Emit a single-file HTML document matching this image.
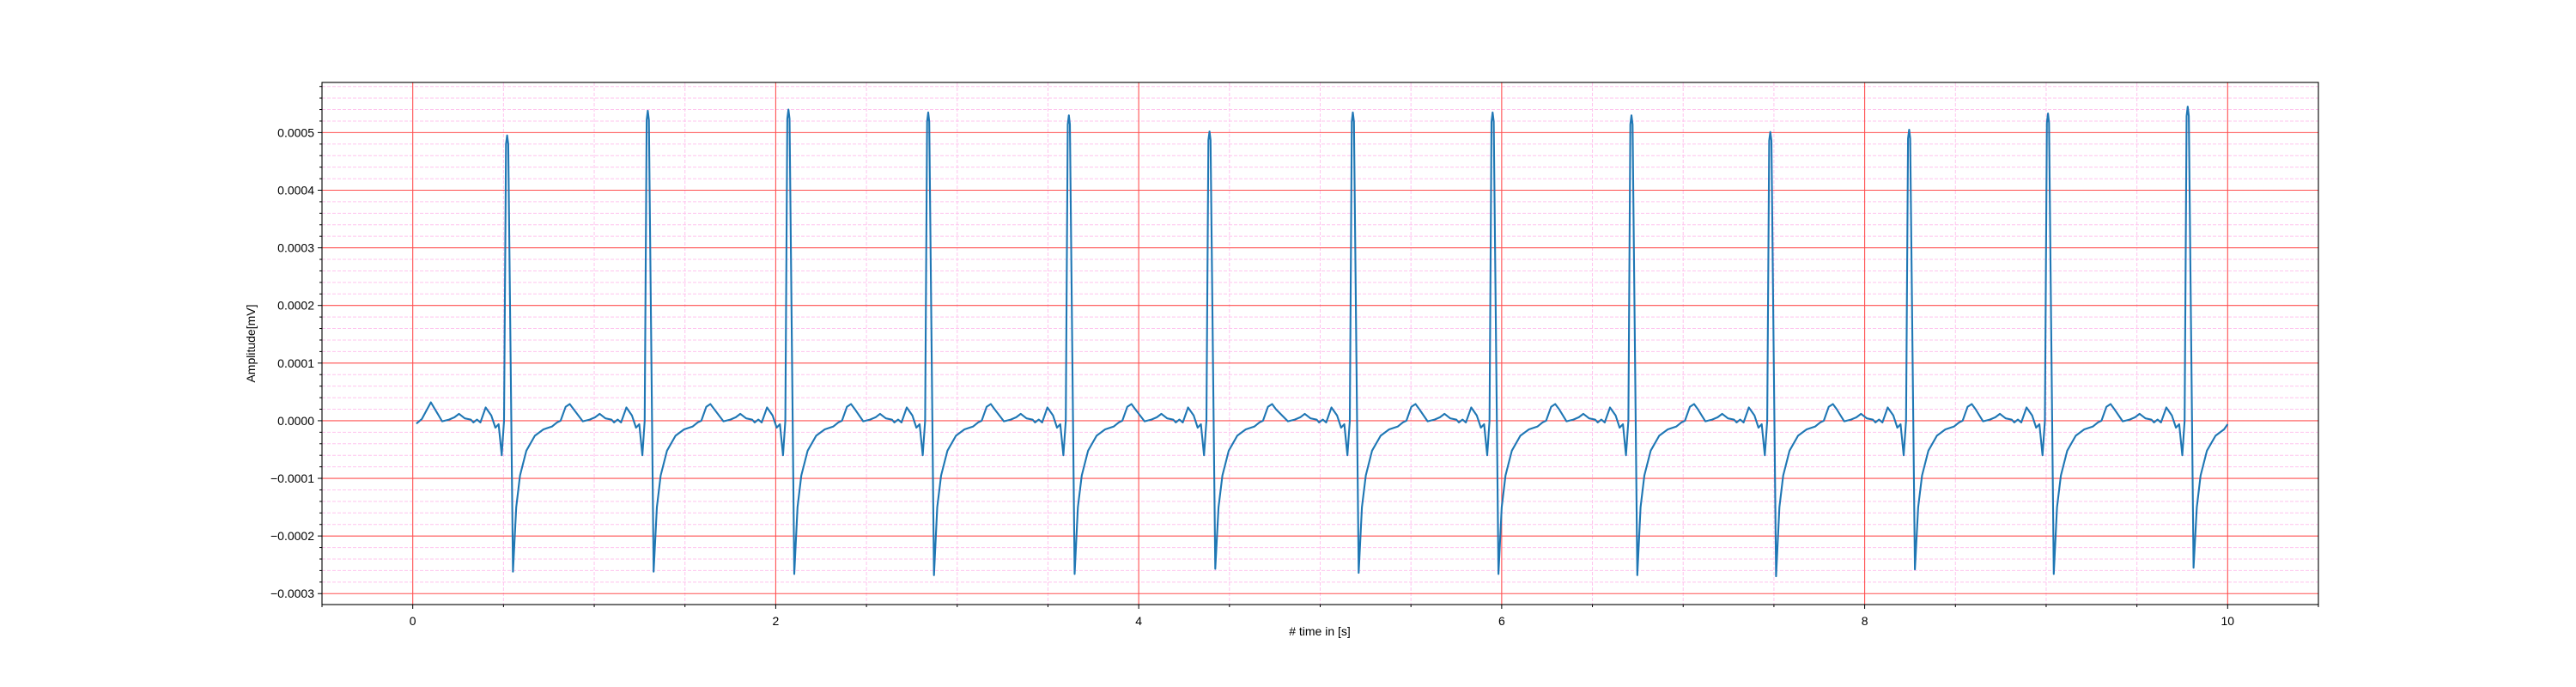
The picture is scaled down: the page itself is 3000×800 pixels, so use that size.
<!DOCTYPE html>
<html><head><meta charset="utf-8"><style>
html,body{margin:0;padding:0;background:#fff;}
svg{display:block;font-family:"Liberation Sans","DejaVu Sans",sans-serif;}
</style></head><body>
<svg id="chart" width="3000" height="800" viewBox="0 0 3000 800" xmlns="http://www.w3.org/2000/svg">
<rect x="0" y="0" width="3000" height="800" fill="#fff"/>
<g id="grid"></g>
<g id="series"></g>
<g id="axes"></g>
<text x="1537" y="740" font-size="14" text-anchor="middle"># time in [s]</text>
<text x="297" y="400" font-size="14" text-anchor="middle" transform="rotate(-90 297 400)">Amplitude[mV]</text>
</svg>
<script>
// R-peak times (s), R amplitudes and S amplitudes (x1e-4 mV)
const rTimes = [0.52, 1.295, 2.07, 2.84, 3.615, 4.39, 5.18, 5.95, 6.715, 7.48, 8.245, 9.01, 9.78];
const rAmps = [4.95, 5.38, 5.40, 5.35, 5.30, 5.02, 5.35, 5.35, 5.30, 5.01, 5.05, 5.33, 5.45];
const sAmps = [-2.62, -2.62, -2.66, -2.68, -2.66, -2.57, -2.64, -2.66, -2.68, -2.70, -2.58, -2.66, -2.55];
// beat waveform shape: offset from R (s) and value (x1e-4 mV); 'R' = peak, 'r' = near-peak, null = S trough
const templateDt = [-0.524,-0.50,-0.47,-0.42,-0.358,-0.32,-0.29,-0.265,-0.233,-0.20,-0.186,-0.166,-0.147,-0.118,-0.087,-0.065,-0.047,-0.030,-0.017,-0.006,0,0.006,0.032,0.050,0.071,0.106,0.153,0.200,0.248,0.275,0.295,0.322,0.345,0.366,0.397,0.429,0.468];
const templateV = [-0.04,-0.05,0.03,0.32,-0.01,0.02,0.06,0.12,0.04,0.02,-0.03,0.02,-0.03,0.23,0.09,-0.12,-0.06,-0.60,0.0,'r','R','r',null,-1.50,-0.95,-0.52,-0.26,-0.15,-0.10,-0.03,0.0,0.24,0.29,0.20,0.03,0.06,0.08];
const xMajorTicks = [0,2,4,6,8,10];
const xTickLabels = ["0","2","4","6","8","10"];
const yMajorTicks = [-3,-2,-1,0,1,2,3,4,5];
const yTickLabels = ["\u22120.0003","\u22120.0002","\u22120.0001","0.0000","0.0001","0.0002","0.0003","0.0004","0.0005"];

const L=375,R=2700,T=96,B=704;
const xMin=-0.5,xMax=10.5,yMin=-3.19,yMax=5.87;
function xs(v){return L+(v-xMin)/(xMax-xMin)*(R-L);}
function ys(v){return B-(v-yMin)/(yMax-yMin)*(B-T);}
const NS="http://www.w3.org/2000/svg";
function mk(tag,attrs,parent){const e=document.createElementNS(NS,tag);for(const k in attrs)e.setAttribute(k,attrs[k]);parent.appendChild(e);return e;}
const grid=document.getElementById('grid'),axes=document.getElementById('axes'),series=document.getElementById('series');

for(let i=-1;i<=21;i++){const v=i*0.5;if(v<xMin||v>xMax)continue;if(v%2===0)continue;
 const g=mk('line',{x1:xs(v),x2:xs(v),y1:T,y2:B,stroke:'#ffc4ee','stroke-width':1,'stroke-dasharray':'4,2'},grid);
 
 }
for(let i=-16;i<=29;i++){const v=i*0.2;if(v<yMin||v>yMax)continue;if(Math.abs(v-Math.round(v))<1e-6)continue;
 const g=mk('line',{x1:L,x2:R,y1:ys(v),y2:ys(v),stroke:'#ffc4ee','stroke-width':1,'stroke-dasharray':'4,2'},grid);
 
 }
xMajorTicks.forEach(v=>{const g=mk('line',{x1:xs(v),x2:xs(v),y1:T,y2:B,stroke:'#ff5050','stroke-width':1.1},grid);
 
 });
yMajorTicks.forEach(v=>{const g=mk('line',{x1:L,x2:R,y1:ys(v),y2:ys(v),stroke:'#ff5050','stroke-width':1.1},grid);
 
 });

let pts=[];
for(let b=0;b<rTimes.length;b++){
 const lo=b===0?-10:-(rTimes[b]-rTimes[b-1])/2;
 const hi=b===rTimes.length-1?10:(rTimes[b+1]-rTimes[b])/2;
 for(let k=0;k<templateDt.length;k++){
  const dt=templateDt[k];if(dt<lo||dt>=hi)continue;
  const t=rTimes[b]+dt;if(t<0||t>10)continue;
  let v=templateV[k];
  if(v==='R')v=rAmps[b];else if(v==='r')v=rAmps[b]*0.97;else if(v===null)v=sAmps[b];
  pts.push([t,v]);}
}
pts.push([10,-0.06]);
const d=pts.map((p,i)=>(i?'L':'M')+xs(p[0]).toFixed(1)+','+ys(p[1]).toFixed(1)).join(' ');
const line=mk('path',{d:d,fill:'none',stroke:'#1f77b4','stroke-width':2.1,'stroke-linejoin':'round'},series);



const fr=mk('rect',{x:L,y:T,width:R-L,height:B-T,fill:'none',stroke:'#000','stroke-width':1.1},axes);


for(let i=-1;i<=21;i++){const v=i*0.5;if(v<xMin||v>xMax)continue;const maj=v%2===0;
 const t=mk('line',{x1:xs(v),x2:xs(v),y1:B,y2:B+(maj?5:3),stroke:'#000','stroke-width':1},axes);
 
 }
xMajorTicks.forEach((v,i)=>{const t=mk('text',{x:xs(v),y:B+24,'font-size':14,'text-anchor':'middle'},axes);t.textContent=xTickLabels[i];
 
 });
for(let i=-16;i<=29;i++){const v=i*0.2;if(v<yMin||v>yMax)continue;const maj=Math.abs(v-Math.round(v))<1e-6;
 const t=mk('line',{x1:L-(maj?5:3),x2:L,y1:ys(v),y2:ys(v),stroke:'#000','stroke-width':1},axes);
 
 }
yMajorTicks.forEach((v,i)=>{const t=mk('text',{x:L-9,y:ys(v)+5,'font-size':14,'text-anchor':'end'},axes);t.textContent=yTickLabels[i];
 
 });
</script>
</body></html>
